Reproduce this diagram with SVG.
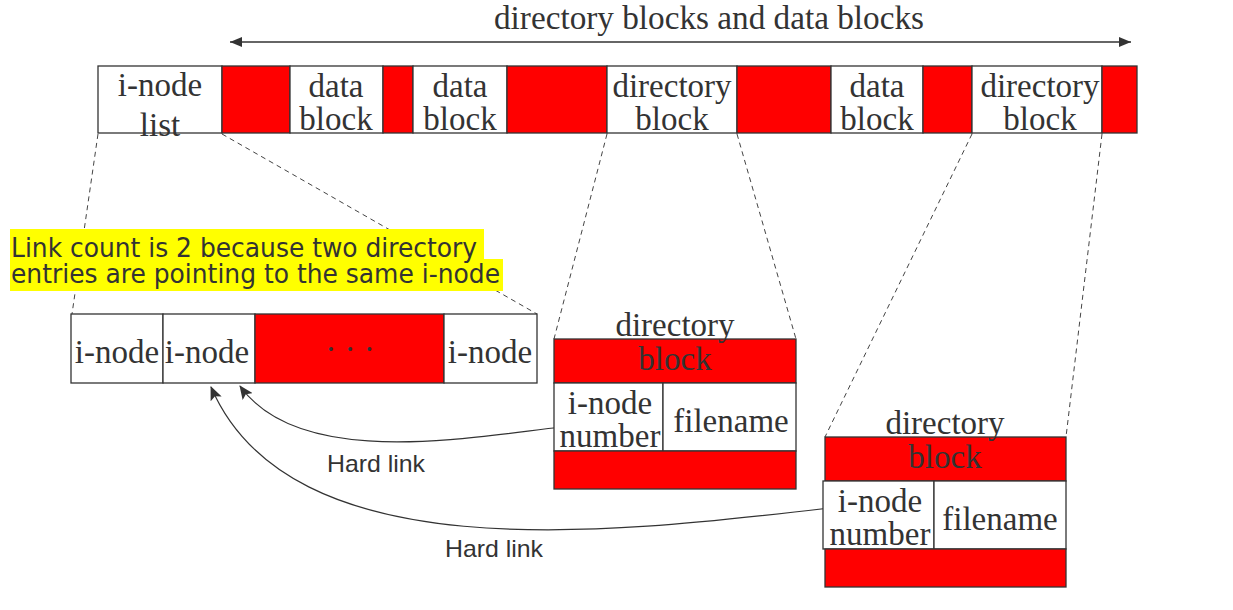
<svg xmlns="http://www.w3.org/2000/svg" width="1233" height="610" viewBox="0 0 1233 610">
<defs>
<marker id="ah" markerWidth="12" markerHeight="10" refX="12" refY="5" orient="auto-start-reverse" markerUnits="userSpaceOnUse">
<path d="M0,0 L12,5 L0,10 Z" fill="#333"/>
</marker>
<marker id="ah2" markerWidth="14" markerHeight="12" refX="13" refY="6" orient="auto" markerUnits="userSpaceOnUse">
<path d="M0,0 L14,6 L0,12 L3,6 Z" fill="#333"/>
</marker>
<style>
.w{fill:#fff;stroke:#333;stroke-width:1.3}
.r{fill:#ff0000;stroke:#333;stroke-width:1.3}
.s{font-family:"Liberation Serif","Times New Roman",serif;font-size:33px;fill:#333;text-anchor:middle}
.sans{font-family:"Liberation Sans",Arial,sans-serif;font-size:24px;fill:#333}
.note{font-family:"DejaVu Sans Condensed","DejaVu Sans",Verdana,sans-serif;font-size:26px;fill:#333}
.d{fill:none;stroke:#444;stroke-width:1;stroke-dasharray:5,4}
.c{fill:none;stroke:#333;stroke-width:1.2}
</style>
</defs>
<rect width="1233" height="610" fill="#fff"/>

<g id="top-arrow">
<line x1="230" y1="42" x2="1131" y2="42" stroke="#333" stroke-width="1.3" marker-start="url(#ah)" marker-end="url(#ah)"/>
<text x="709" y="29" class="s" font-size="31" textLength="430" lengthAdjust="spacingAndGlyphs">directory blocks and data blocks</text>
</g>

<g id="connectors">
<line class="d" x1="98" y1="134" x2="72" y2="314"/>
<line class="d" x1="222" y1="134" x2="537" y2="314"/>
<line class="d" x1="607" y1="134" x2="554" y2="339"/>
<line class="d" x1="737" y1="134" x2="796" y2="339"/>
<line class="d" x1="972" y1="134" x2="825" y2="437"/>
<line class="d" x1="1102" y1="134" x2="1066" y2="437"/>
<path class="c" d="M562,427 C470,437 300,470 240,386" marker-end="url(#ah2)"/>
<path class="c" d="M830,508 C600,535 290,570 211,387" marker-end="url(#ah2)"/>
<text class="sans" x="327" y="472" textLength="98" lengthAdjust="spacingAndGlyphs">Hard link</text>
<text class="sans" x="445" y="557" textLength="98" lengthAdjust="spacingAndGlyphs">Hard link</text>
</g>

<g id="disk">
<rect class="w" x="98" y="66" width="124" height="67"/>
<rect class="r" x="222" y="66" width="68" height="67"/>
<rect class="w" x="290" y="66" width="93" height="67"/>
<rect class="r" x="383" y="66" width="30" height="67"/>
<rect class="w" x="413" y="66" width="94" height="67"/>
<rect class="r" x="507" y="66" width="100" height="67"/>
<rect class="w" x="607" y="66" width="130" height="67"/>
<rect class="r" x="737" y="66" width="94" height="67"/>
<rect class="w" x="831" y="66" width="92" height="67"/>
<rect class="r" x="923" y="66" width="49" height="67"/>
<rect class="w" x="972" y="66" width="130" height="67"/>
<rect class="r" x="1102" y="66" width="35" height="67"/>
<text class="s" x="160" y="96">i-node</text>
<text class="s" x="160" y="136">list</text>
<text class="s" x="336" y="97">data</text>
<text class="s" x="336" y="130">block</text>
<text class="s" x="460" y="97">data</text>
<text class="s" x="460" y="130">block</text>
<text class="s" x="672" y="97">directory</text>
<text class="s" x="672" y="130">block</text>
<text class="s" x="877" y="97">data</text>
<text class="s" x="877" y="130">block</text>
<text class="s" x="1040" y="97">directory</text>
<text class="s" x="1040" y="130">block</text>
</g>

<g id="note">
<rect x="10" y="229" width="474" height="30" fill="#ffff00"/>
<rect x="10" y="259" width="493" height="32" fill="#ffff00"/>
<text class="note" x="11" y="257" textLength="466" lengthAdjust="spacingAndGlyphs">Link count is 2 because two directory</text>
<text class="note" x="11" y="283" textLength="489" lengthAdjust="spacingAndGlyphs">entries are pointing to the same i-node</text>
</g>

<g id="inode-list">
<rect class="w" x="71" y="314" width="92" height="69"/>
<rect class="w" x="163" y="314" width="92" height="69"/>
<rect class="r" x="255" y="314" width="189" height="69"/>
<rect class="w" x="444" y="314" width="93" height="69"/>
<text class="s" x="117" y="363">i-node</text>
<text class="s" x="207" y="363">i-node</text>
<text class="s" x="490" y="363">i-node</text>
<text class="s" x="350" y="360" font-size="26">· · ·</text>
</g>

<g id="dirblock1">
<rect class="r" x="554" y="339" width="242" height="44"/>
<rect class="w" x="554" y="383" width="109" height="68"/>
<rect class="w" x="663" y="383" width="133" height="68"/>
<rect class="r" x="554" y="451" width="242" height="38"/>
<text class="s" x="675" y="336">directory</text>
<text class="s" x="675" y="370">block</text>
<text class="s" x="610" y="414">i-node</text>
<text class="s" x="610" y="447">number</text>
<text class="s" x="731" y="432">filename</text>
</g>

<g id="dirblock2">
<rect class="r" x="825" y="437" width="241" height="44"/>
<rect class="w" x="823" y="481" width="111" height="68"/>
<rect class="w" x="934" y="481" width="132" height="68"/>
<rect class="r" x="825" y="549" width="241" height="38"/>
<text class="s" x="945" y="434">directory</text>
<text class="s" x="945" y="468">block</text>
<text class="s" x="880" y="512">i-node</text>
<text class="s" x="880" y="545">number</text>
<text class="s" x="1000" y="530">filename</text>
</g>
</svg>
